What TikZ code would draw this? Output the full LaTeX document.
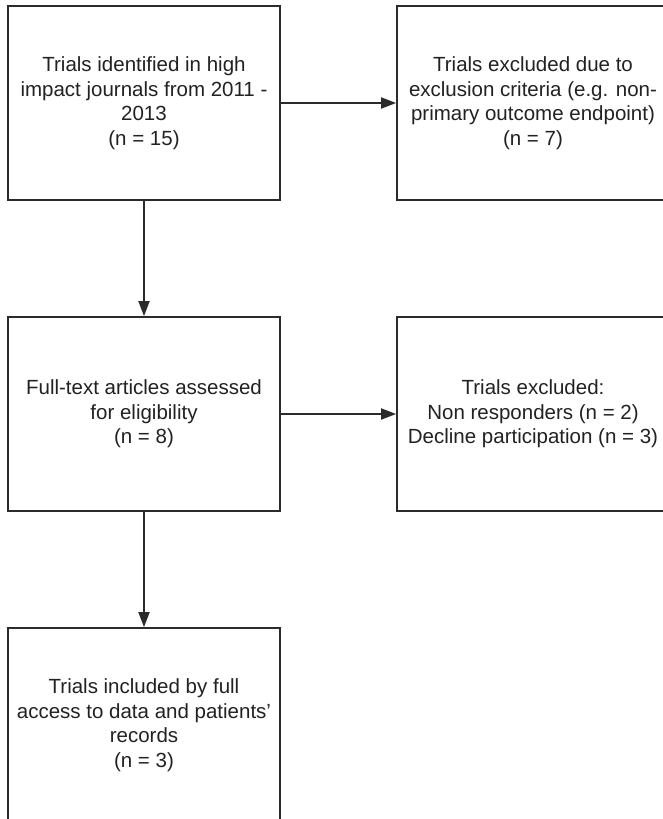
\documentclass[tikz,border=0pt]{standalone}
\usepackage{fontspec}
\setmainfont{Liberation Sans}
\usetikzlibrary{arrows.meta}
\definecolor{inkline}{HTML}{2B2B2B}
\definecolor{inktext}{HTML}{222222}
\begin{document}
\begin{tikzpicture}[x=1pt,y=-1pt,
  flowbox/.style={draw=inkline, line width=1.8pt, fill=white, inner sep=0pt,
    minimum width=272pt, minimum height=194pt, text=inktext, align=center,
    font=\fontsize{20.5}{24.5}\selectfont},
  flowarrow/.style={draw=inkline, line width=1.8pt,
    -{Triangle[length=15pt,width=11pt]}}]
  \useasboundingbox (0,0) rectangle (663,819);
  \clip (0,0) rectangle (663,819);
  \fill[white] (0,0) rectangle (663,819);

  % left column: main flow
  \node[flowbox] (ident) at (144,103) {Trials identified in high\\impact journals from 2011 -\\2013\\(n = 15)};
  \node[flowbox] (full)  at (144,414) {Full-text articles assessed\\for eligibility\\(n = 8)};
  \node[flowbox] (incl)  at (144,725) {Trials included by full\\access to data and patients’\\records\\(n = 3)};

  % right column: exclusions
  \node[flowbox] (excl1) at (533,103) {Trials excluded due to\\exclusion criteria (e.g. non-\\primary outcome endpoint)\\(n = 7)};
  \node[flowbox] (excl2) at (533,414) {Trials excluded:\\Non responders (n = 2)\\Decline participation (n = 3)};

  % connectors
  \draw[flowarrow] (ident.east) -- (excl1.west);
  \draw[flowarrow] (full.east) -- (excl2.west);
  \draw[flowarrow] (ident.south) -- (full.north);
  \draw[flowarrow] (full.south) -- (incl.north);
\end{tikzpicture}
\end{document}
